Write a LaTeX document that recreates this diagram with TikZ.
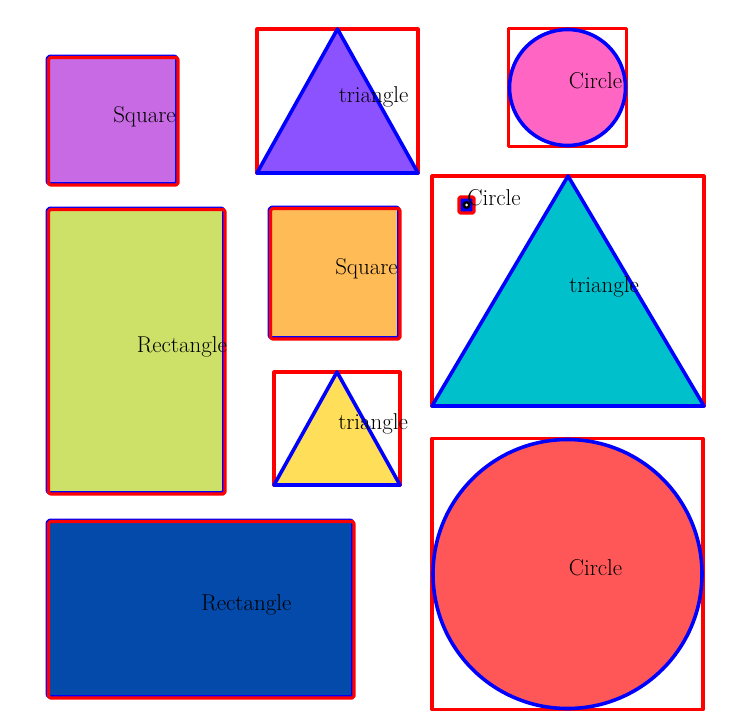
\documentclass[tikz,border=0pt]{standalone}
\usepackage{tikz}
\definecolor{shpurple}{RGB}{200,106,227}
\definecolor{shviolet}{RGB}{140,82,255}
\definecolor{shpink}{RGB}{255,102,196}
\definecolor{shgreen}{RGB}{205,224,104}
\definecolor{shorange}{RGB}{255,187,85}
\definecolor{shcyan}{RGB}{0,192,204}
\definecolor{shyellow}{RGB}{255,222,89}
\definecolor{shblue}{RGB}{4,74,170}
\definecolor{shred}{RGB}{255,87,87}
\usetikzlibrary{positioning}

\begin{document}
\begin{tikzpicture}[x=0.0265cm, y=-0.0265cm,
    outline/.style={draw=blue, line width=2.7pt, line join=round},
    frame/.style={draw=red, line width=2.4pt, line join=round},
    tag/.style={anchor=base west, font=\LARGE, inner sep=0pt}]
  \useasboundingbox (0,0) rectangle (746,722);
  % squares and rectangles
  \foreach \xa/\ya/\xb/\yb/\col/\txt/\nm in {48/57/178/185/shpurple/Square/sqa,
      48/209/225/494/shgreen/Rectangle/reca, 270/208/400/339/shorange/Square/sqb,
      48/521/354/698/shblue/Rectangle/recb} {
    \filldraw[fill=\col, outline, rounded corners=1.5pt] (\xa-0.5,\ya-0.5) rectangle (\xb-1,\yb-1);
    \draw[frame, rounded corners=1.5pt] (\xa+0.5,\ya+0.5) rectangle (\xb,\yb);
    \node[tag] (\nm) at ({(\xa+\xb)/2},{(\ya+\yb)/2+1}) {\txt};
  }
  % triangles
  \foreach \xa/\ya/\xb/\yb/\col/\nm in {257/29/418/173/shviolet/tria,
      432/176/704/406/shcyan/trib, 274/372/400/485/shyellow/tric} {
    \draw[frame] (\xa,\ya) rectangle (\xb,\yb);
    \filldraw[fill=\col, outline] ({(\xa+\xb)/2},\ya) -- (\xb,\yb) -- (\xa,\yb) -- cycle;
    \node[tag] (\nm) at ({(\xa+\xb)/2+1},{(\ya+\yb)/2+1}) {triangle};
  }
  % circles
  \foreach \cx/\cy/\r/\col/\nm in {567.5/87.5/59/shpink/cira, 567.5/574/135.5/shred/cirb} {
    \draw[frame] (\cx-\r,\cy-\r) rectangle (\cx+\r,\cy+\r);
    \filldraw[fill=\col, outline] (\cx,\cy) circle[radius=\r-1];
    \node[tag] (\nm) at (\cx+1,\cy+1) {Circle};
  }
  % tiny circle
  \draw[frame, fill=blue, rounded corners=1pt] (459,197) rectangle (474,213);
  \fill[black] (466.5,205) circle[radius=4];
  \fill[white] (466.5,205) circle[radius=1.5];
  \node[tag] (circ) at (467,205) {Circle};
\end{tikzpicture}
\end{document}
